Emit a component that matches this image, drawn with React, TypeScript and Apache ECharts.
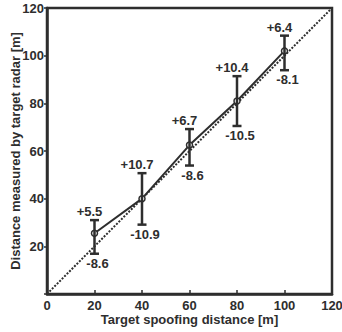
import React, { useEffect, useRef } from "react";
import * as echarts from "echarts";

const xValues = [20, 40, 60, 80, 100];
const measured = [25.5, 40, 62.5, 81, 102];
const plusErr = [5.5, 10.7, 6.7, 10.4, 6.4];
const minusErr = [8.6, 10.9, 8.6, 10.5, 8.1];
const idealLine = [[0, 0], [120, 120]];

const FONT = "'Liberation Sans', Arial, sans-serif";
const DARK = "#2e2e2e";

export default function App() {
  const ref = useRef<HTMLDivElement>(null);
  useEffect(() => {
    if (!ref.current) return;
    const chart = echarts.init(ref.current, undefined, { renderer: "svg" });
    const errData = xValues.map((x, i) => [x, measured[i], plusErr[i], minusErr[i]]);
    chart.setOption({
      animation: false,
      grid: { left: 47, right: 10, top: 8, bottom: 38, show: true, borderColor: DARK, borderWidth: 2.5,
        backgroundColor: "transparent", outerBoundsMode: "none", containLabel: false },
      xAxis: {
        type: "value", min: 0, max: 120, interval: 20,
        name: "Target spoofing distance [m]", nameLocation: "middle", nameGap: 19, nameMoveOverlap: false,
        nameTextStyle: { fontFamily: FONT, fontWeight: "bold", fontSize: 13, color: DARK },
        axisLine: { show: true, lineStyle: { color: DARK, width: 2.5 } },
        axisTick: { show: true, inside: true, length: 4, lineStyle: { color: DARK, width: 1.5 } },
        axisLabel: { fontFamily: FONT, fontWeight: "bold", fontSize: 13, color: DARK, margin: 5 },
        splitLine: { show: false },
      },
      yAxis: {
        type: "value", min: 0, max: 120, interval: 20,
        name: "Distance measured by target radar [m]", nameLocation: "middle", nameGap: 25, nameMoveOverlap: false,
        nameTextStyle: { fontFamily: FONT, fontWeight: "bold", fontSize: 13, color: DARK },
        axisLine: { show: true, lineStyle: { color: DARK, width: 2.5 } },
        axisTick: { show: true, inside: false, length: 3, lineStyle: { color: DARK, width: 1.5 } },
        axisLabel: { fontFamily: FONT, fontWeight: "bold", fontSize: 13, color: DARK, margin: 3,
          formatter: (v: number) => (v === 0 ? "" : String(v)) },
        splitLine: { show: false },
      },
      series: [
        {
          type: "line", data: idealLine, symbol: "none", silent: true, z: 3,
          lineStyle: { color: DARK, width: 2, type: [2, 1.5] },
        },
        {
          type: "line", data: xValues.map((x, i) => [x, measured[i]]), z: 4,
          symbol: "circle", symbolSize: 6,
          itemStyle: { color: "#fff", borderColor: DARK, borderWidth: 1.5 },
          lineStyle: { color: DARK, width: 2 },
        },
        {
          type: "custom", z: 5,
          data: errData,
          renderItem: (params: any, api: any) => {
            const x = api.value(0), y = api.value(1), p = api.value(2), m = api.value(3);
            const top = api.coord([x, y + p]);
            const bot = api.coord([x, y - m]);
            const cw = 4.5;
            const st = { stroke: DARK, lineWidth: 2.5 };
            return {
              type: "group",
              children: [
                { type: "line", shape: { x1: top[0], y1: top[1], x2: bot[0], y2: bot[1] }, style: st },
                { type: "line", shape: { x1: top[0] - cw, y1: top[1], x2: top[0] + cw, y2: top[1] }, style: st },
                { type: "line", shape: { x1: bot[0] - cw, y1: bot[1], x2: bot[0] + cw, y2: bot[1] }, style: st },
                { type: "text", x: top[0] - 5, y: top[1] - 2,
                  style: { text: "+" + p, fontFamily: FONT, fontWeight: "bold", fontSize: 13, fill: DARK, align: "center", verticalAlign: "bottom" } },
                { type: "text", x: bot[0] + 3, y: bot[1] + 3,
                  style: { text: "-" + m, fontFamily: FONT, fontWeight: "bold", fontSize: 13, fill: DARK, align: "center", verticalAlign: "top" } },
              ],
            };
          },
        },
      ],
    });
    return () => chart.dispose();
  }, []);
  return <div ref={ref} style={{ position: "absolute", left: 0, top: 0, width: 342, height: 332 }} />;
}
